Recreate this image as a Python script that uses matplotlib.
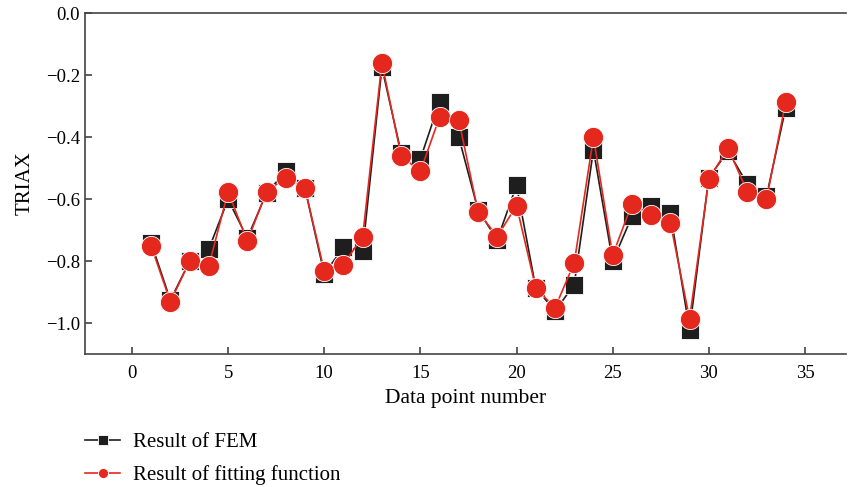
import numpy as np
import matplotlib.pyplot as plt

plt.rcParams['font.family'] = ['Liberation Serif', 'DejaVu Serif']

point = np.arange(1, 35)
fem = [-0.74, -0.925, -0.80, -0.76, -0.60, -0.725, -0.58, -0.51, -0.565, -0.84,
       -0.755, -0.765, -0.175, -0.45, -0.47, -0.285, -0.40, -0.635, -0.73, -0.555,
       -0.885, -0.96, -0.875, -0.44, -0.80, -0.655, -0.62, -0.645, -1.02, -0.53,
       -0.445, -0.55, -0.59, -0.305]
fit = [-0.75, -0.93, -0.80, -0.815, -0.575, -0.735, -0.575, -0.53, -0.565, -0.83,
       -0.81, -0.72, -0.16, -0.46, -0.51, -0.335, -0.345, -0.64, -0.72, -0.62,
       -0.885, -0.95, -0.805, -0.40, -0.78, -0.615, -0.65, -0.675, -0.985, -0.535,
       -0.435, -0.575, -0.60, -0.285]

black = '#1e1e1e'
red = '#e5281e'

fig = plt.figure(figsize=(8.48, 4.87), dpi=100)
ax = fig.add_axes([0.1, 0.274, 0.898, 0.699])

ax.plot(point, fem, color=black, lw=1.2, marker='s', ms=13,
        mec='white', mew=0.6, label='Result of FEM')
ax.plot(point, fit, color=red, lw=1.2, marker='o', ms=14.5,
        mec='white', mew=0.6, label='Result of fitting function')

ax.set_xlim(-2.45, 37.15)
ax.set_ylim(-1.097, 0.0)
ax.set_xticks(range(0, 36, 5))
ax.set_yticks([0.0, -0.2, -0.4, -0.6, -0.8, -1.0])
ax.set_yticklabels(['0.0', '\u22120.2', '\u22120.4', '\u22120.6', '\u22120.8', '\u22121.0'])
ax.tick_params(direction='in', labelsize=13.5, length=5, width=1.2, color='#444444')
ax.tick_params(axis='x', pad=8)
for s in ['left', 'bottom', 'top']:
    ax.spines[s].set_linewidth(1.2)
    ax.spines[s].set_color('#444444')
ax.spines['right'].set_visible(False)

ax.set_xlabel('Data point number', fontsize=15.5, labelpad=5)
ax.set_ylabel('TRIAX', fontsize=15, labelpad=8)

fig.legend(loc='upper left', bbox_to_anchor=(0.1, 0.112), frameon=False,
           fontsize=15, markerscale=0.5, handlelength=1.7, labelspacing=0.62,
           handletextpad=0.6, borderaxespad=0, borderpad=0)

fig.savefig('out.png', dpi=100)
